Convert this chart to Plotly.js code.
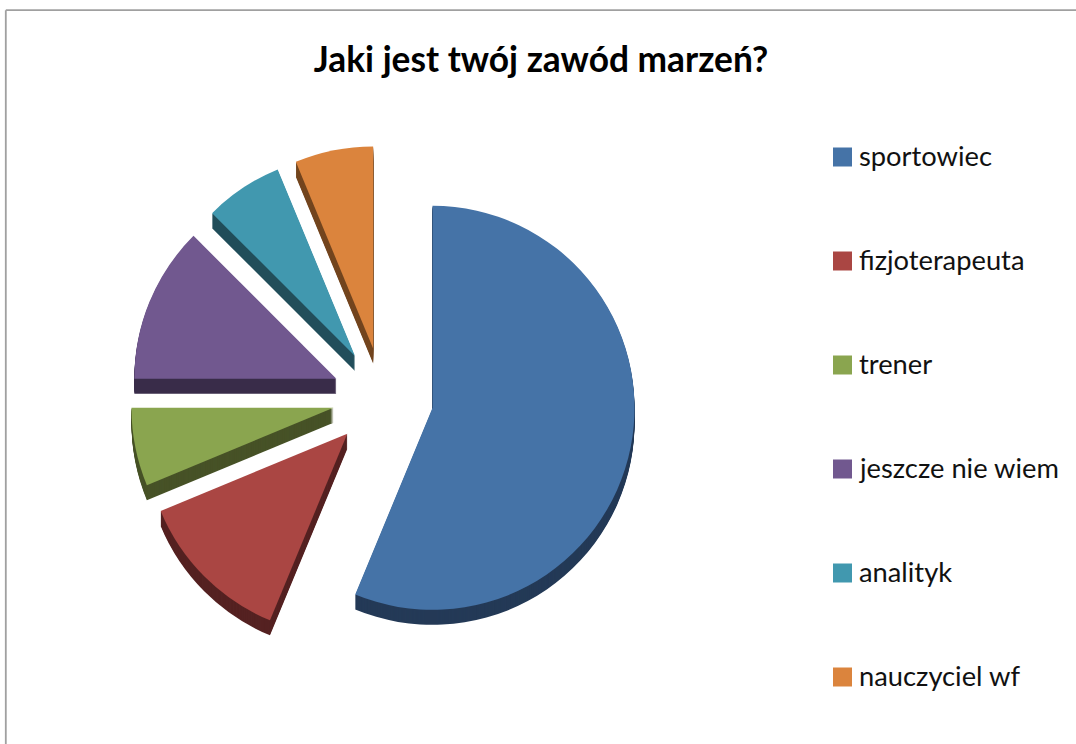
<!DOCTYPE html>
<html lang="pl">
<head>
<meta charset="utf-8">
<script src="https://cdn.plot.ly/plotly-3.0.1.min.js"></script>
<style>html,body{margin:0;padding:0;background:#fff;overflow:hidden}#chart{width:1076px;height:744px}</style>
</head>
<body>
<div id="chart"></div>
<script>
var titleText = "Jaki jest twój zawód marzeń?";
var categories = ["sportowiec", "fizjoterapeuta", "trener", "jeszcze nie wiem", "analityk", "nauczyciel wf"];
var values = [56.25, 12.5, 6.25, 12.5, 6.25, 6.25];
var topColors = ["#4573A7", "#AA4643", "#8AA54F", "#71588F", "#4198AF", "#DB843D"];
var sideColors = ["#243A57", "#552222", "#475227", "#3A2C4A", "#224F5B", "#73451F"];

var W = 1076, H = 744;
var cx = 383, cy = 398, radius = 202, pull = 0.25, depth = 15;
var half = radius * (1 + pull);

function pieTrace(colors, offset) {
  return {
    type: "pie", labels: categories, values: values, sort: false, direction: "clockwise", rotation: 0,
    pull: pull, textinfo: "none", showlegend: false, hoverinfo: offset === 0 ? "label+percent" : "skip",
    marker: {colors: colors, line: {width: 0}},
    domain: {
      x: [(cx - half) / W, (cx + half) / W],
      y: [1 - (cy + offset + half) / H, 1 - (cy + offset - half) / H]
    }
  };
}

// The 3D wall: the same pie repeated downward, one pixel per layer, under the top face.
var traces = [];
for (var d = depth; d > 0; d--) traces.push(pieTrace(sideColors, d));
traces.push(pieTrace(topColors, 0));

var legendX0 = 833, legendSwatch = 19, legendTextX = 859, legendY0 = 157, legendStep = 104;
var shapes = [
  {type: "line", xref: "paper", yref: "paper", x0: 5.8 / W, x1: 5.8 / W, y0: 0, y1: 1 - 10.2 / H, line: {color: "#A0A0A0", width: 1.8}},
  {type: "line", xref: "paper", yref: "paper", x0: 5.8 / W, x1: 1, y0: 1 - 10.2 / H, y1: 1 - 10.2 / H, line: {color: "#A0A0A0", width: 1.8}}
];
var annotations = [];
categories.forEach(function (name, i) {
  var yc = legendY0 + i * legendStep;
  shapes.push({type: "rect", xref: "paper", yref: "paper",
    x0: legendX0 / W, x1: (legendX0 + legendSwatch) / W,
    y0: 1 - (yc + legendSwatch / 2) / H, y1: 1 - (yc - legendSwatch / 2) / H,
    fillcolor: topColors[i], line: {width: 0}});
  annotations.push({xref: "paper", yref: "paper", x: legendTextX / W, y: 1 - (yc - 2) / H,
    xanchor: "left", yanchor: "middle", showarrow: false, text: name, borderpad: 0, borderwidth: 0,
    font: {family: "Lato, sans-serif", size: 27.3, color: "#111111"}});
});

Plotly.newPlot("chart", traces, {
  width: W, height: H,
  margin: {l: 0, r: 0, t: 0, b: 0},
  paper_bgcolor: "#fff",
  showlegend: false,
  title: {text: titleText, x: 541 / W, xanchor: "center", y: 1 - 60 / H, yanchor: "middle",
    font: {family: "Lato, sans-serif", size: 35.3, color: "#000000", weight: 700}},
  shapes: shapes,
  annotations: annotations
}, {displayModeBar: false, responsive: false});
</script>
</body>
</html>
